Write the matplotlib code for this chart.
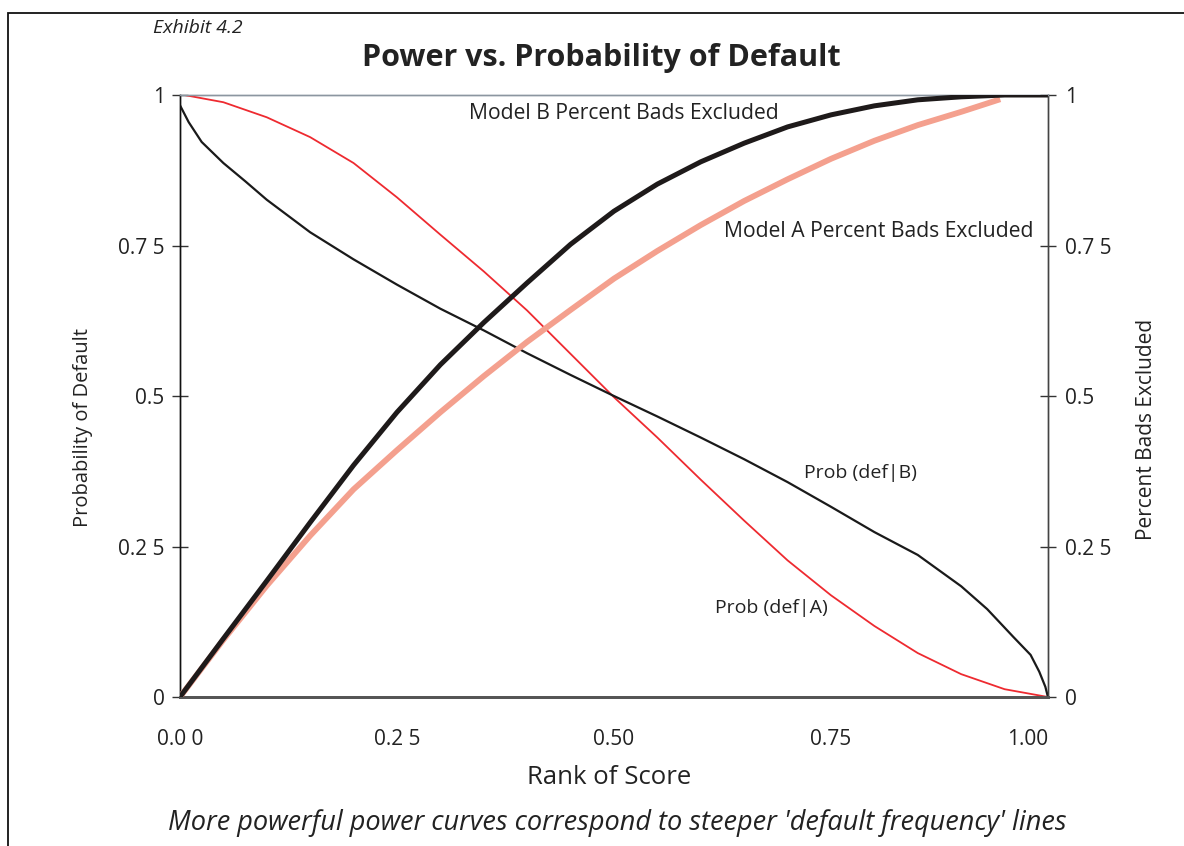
import matplotlib

matplotlib.use("Agg")
import matplotlib.pyplot as plt  # noqa: E402
from matplotlib.patches import Rectangle  # noqa: E402

plt.rcParams["font.family"] = ["Open Sans", "DejaVu Sans"]

# power curves (percent bads excluded vs rank of score)
rank_b = [0.0, 0.05, 0.1, 0.15, 0.2, 0.25, 0.3, 0.35, 0.4, 0.45, 0.5, 0.55, 0.6,
          0.65, 0.7, 0.75, 0.8, 0.85, 0.9, 0.95, 1.0]
power_b = [0.0, 0.097, 0.193, 0.29, 0.385, 0.473, 0.552, 0.622, 0.688, 0.752, 0.807,
           0.852, 0.889, 0.92, 0.947, 0.967, 0.982, 0.992, 0.997, 1.0, 1.0]

rank_a = [0.0, 0.05, 0.1, 0.15, 0.2, 0.25, 0.3, 0.35, 0.4, 0.45, 0.5, 0.55, 0.6,
          0.65, 0.7, 0.75, 0.8, 0.85, 0.9, 0.945]
power_a = [0.0, 0.095, 0.185, 0.268, 0.345, 0.41, 0.473, 0.533, 0.59, 0.643, 0.695,
           0.741, 0.784, 0.824, 0.86, 0.894, 0.924, 0.95, 0.972, 0.993]

# default frequency lines
rank_pa = [0.005, 0.05, 0.1, 0.15, 0.2, 0.25, 0.3, 0.35, 0.4, 0.45, 0.5, 0.55, 0.6,
           0.65, 0.7, 0.75, 0.8, 0.85, 0.9, 0.95, 1.0]
prob_a = [1.0, 0.988, 0.963, 0.93, 0.887, 0.83, 0.768, 0.707, 0.642, 0.57, 0.498,
          0.431, 0.361, 0.293, 0.227, 0.169, 0.118, 0.073, 0.038, 0.013, 0.0]

rank_pb = [0.0, 0.01, 0.025, 0.05, 0.075, 0.1, 0.15, 0.2, 0.25, 0.3, 0.35, 0.4, 0.45,
           0.5, 0.55, 0.6, 0.65, 0.7, 0.75, 0.8, 0.85, 0.9, 0.93, 0.96, 0.98, 0.99,
           0.997, 1.0]
prob_b = [0.983, 0.955, 0.922, 0.887, 0.857, 0.826, 0.772, 0.727, 0.685, 0.645, 0.609,
          0.571, 0.535, 0.5, 0.466, 0.431, 0.395, 0.357, 0.316, 0.274, 0.236, 0.184,
          0.146, 0.1, 0.07, 0.042, 0.017, 0.0]

yticks = [0, 0.25, 0.5, 0.75, 1]
ytick_labels = ["0", "0.2 5", "0.5", "0.7 5", "1"]
xticks = [0, 0.25, 0.5, 0.75, 1]
xtick_labels = ["0.0 0", "0.2 5", "0.50", "0.75", "1.00"]

TXT = "#222222"

fig = plt.figure(figsize=(11.84, 8.46), dpi=100)
fig.patches.append(Rectangle((8 / 1184, -0.1), 1.2, 1.1 - 13 / 846,
                             transform=fig.transFigure, fill=False,
                             edgecolor="#111111", linewidth=1.3))
ax = fig.add_axes([0.152, 0.1761, 0.7331, 0.7116])
ax2 = ax.twinx()

ax.plot(rank_pa, prob_a, color="#ee2a30", lw=1.3, zorder=3)
ax.plot(rank_pb, prob_b, color="#1a1a1a", lw=1.6, zorder=3)
ax2.plot(rank_a, power_a, color="#f4a08e", lw=4.2, solid_capstyle="butt", zorder=3)
ax2.plot(rank_b, power_b, color="#1e1a1a", lw=3.6, solid_capstyle="butt", zorder=4)

for a in (ax, ax2):
    a.set_xlim(0, 1)
    a.set_ylim(0, 1)
    a.set_yticks(yticks)
    a.spines["top"].set_color("#8c96a0")
    a.spines["top"].set_linewidth(1.0)
    a.spines["left"].set_color("#111111")
    a.spines["left"].set_linewidth(1.0)
    a.spines["right"].set_color("#444444")
    a.spines["right"].set_linewidth(1.0)
    a.spines["bottom"].set_color("#555555")
    a.spines["bottom"].set_linewidth(2.0)

ax.set_yticklabels(ytick_labels)
ax2.set_yticklabels(ytick_labels)
ax.tick_params(axis="y", direction="inout", length=12, width=1.0, color="#333333",
               labelsize=15, labelcolor=TXT, pad=5)
ax2.tick_params(axis="y", direction="inout", length=12, width=1.0, color="#333333",
                labelsize=15, labelcolor=TXT, pad=6)
ax.set_xticks(xticks)
ax.set_xticklabels(xtick_labels)
ax.tick_params(axis="x", length=0, labelsize=15, labelcolor=TXT, pad=23)
ax.get_xticklabels()[-1].set_horizontalalignment("right")

ax.set_ylabel("Probability of Default", fontsize=14.5, color=TXT)
ax.yaxis.set_label_coords(-0.112, 0.447)
ax.yaxis.label.set_verticalalignment("center")
ax2.set_ylabel("Percent Bads Excluded", fontsize=15, color=TXT)
ax2.yaxis.set_label_coords(1.113, 0.445)
ax2.yaxis.label.set_verticalalignment("center")
ax.set_xlabel("Rank of Score", fontsize=18.5, color=TXT)
ax.xaxis.set_label_coords(0.495, -0.133)
ax.xaxis.label.set_verticalalignment("center")

ax2.text(0.511, 0.97, "Model B Percent Bads Excluded", fontsize=15.2, color=TXT,
         ha="center", va="center")
ax2.text(0.627, 0.774, "Model A Percent Bads Excluded", fontsize=15.2, color=TXT,
         ha="left", va="center")
ax.text(0.719, 0.372, "Prob (def|B)", fontsize=14, color=TXT, ha="left", va="center")
ax.text(0.616, 0.148, "Prob (def|A)", fontsize=14, color=TXT, ha="left", va="center")

fig.text(0.508, 0.932, "Power vs. Probability of Default", fontsize=22,
         fontweight="bold", color=TXT, ha="center", va="center")
fig.text(0.129, 0.967, "Exhibit 4.2", fontsize=14, style="italic", color=TXT,
         ha="left", va="center")
fig.text(0.521, 0.027, "More powerful power curves correspond to steeper "
         "'default frequency' lines", fontsize=19.5, style="italic", color=TXT,
         ha="center", va="center")

fig.savefig("out.png", dpi=100)
